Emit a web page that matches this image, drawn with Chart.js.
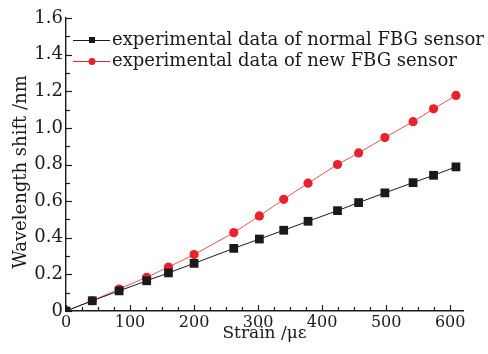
<!DOCTYPE html>
<html>
<head>
<meta charset="utf-8">
<script src="https://cdn.jsdelivr.net/npm/chart.js@4.4.0/dist/chart.umd.min.js"></script>
<style>
    body { margin: 0; background: #fff; }
    #wrap { width: 488px; height: 354px; }
</style>
</head>
<body>
<div id="wrap"><canvas id="strainChart" width="488" height="354"></canvas></div>
<script>
// strain values (με)
const strainNormal = [0, 41, 83, 126, 160, 200, 262, 302, 340, 378, 424, 457, 498, 542, 574, 609];
const shiftNormal = [0, 0.056, 0.11, 0.165, 0.208, 0.26, 0.342, 0.393, 0.441, 0.49, 0.548, 0.592, 0.645, 0.701, 0.741, 0.787];

const strainNew = [0, 41, 83, 126, 160, 200, 262, 302, 340, 378, 424, 457, 498, 542, 574, 609];
const shiftNew = [0, 0.056, 0.12, 0.184, 0.24, 0.308, 0.428, 0.519, 0.61, 0.698, 0.8, 0.863, 0.947, 1.034, 1.104, 1.177];

const xTicks = [0, 100, 200, 300, 400, 500, 600];
const yTicks = [0, 0.2, 0.4, 0.6, 0.8, 1.0, 1.2, 1.4, 1.6];

const legendLabels = ['experimental data of normal FBG sensor', 'experimental data of new FBG sensor'];
const xTitle = 'Strain /με';
const yTitle = 'Wavelength shift /nm';

const SERIF = '"DejaVu Serif", "Liberation Serif", serif';
const INK = '#1a1a1a';
const RED = '#e8222a';

function toPoints(xs, ys) {
    return xs.map((x, i) => ({ x: x, y: ys[i] }));
}

// inward tick marks, axis titles and the in-plot legend
const decorPlugin = {
    id: 'decor',
    afterDraw(chart) {
        const ctx = chart.ctx;
        const xs = chart.scales.x;
        const ys = chart.scales.y;
        const area = chart.chartArea;
        ctx.save();
        ctx.strokeStyle = INK;
        ctx.lineWidth = 1.2;

        // x ticks, minor every 25
        for (let v = 0; v <= 620; v += 25) {
            const px = Math.round(xs.getPixelForValue(v)) + 0.5;
            const len = v % 100 === 0 ? 6 : 4;
            ctx.beginPath();
            ctx.moveTo(px, area.bottom);
            ctx.lineTo(px, area.bottom - len);
            ctx.stroke();
        }
        // y ticks, minor every 0.1
        for (let i = 0; i <= 16; i++) {
            const py = Math.round(ys.getPixelForValue(i / 10)) + 0.5;
            const len = i % 2 === 0 ? 6 : 4;
            ctx.beginPath();
            ctx.moveTo(area.left, py);
            ctx.lineTo(area.left + len, py);
            ctx.stroke();
        }

        // axis titles
        ctx.fillStyle = INK;
        ctx.font = '17px ' + SERIF;
        ctx.textAlign = 'center';
        ctx.textBaseline = 'middle';
        ctx.fillText(xTitle, (area.left + area.right) / 2, 334);
        ctx.save();
        ctx.translate(21, 172);
        ctx.rotate(-Math.PI / 2);
        ctx.font = '18px ' + SERIF;
        ctx.fillText(yTitle, 0, 0);
        ctx.restore();

        // legend
        const rows = [
            { y: 40, color: INK, style: 'rect', label: legendLabels[0] },
            { y: 61, color: RED, style: 'circle', label: legendLabels[1] }
        ];
        ctx.textAlign = 'left';
        rows.forEach(row => {
            ctx.strokeStyle = row.color;
            ctx.lineWidth = 1;
            ctx.beginPath();
            ctx.moveTo(73, row.y + 0.5);
            ctx.lineTo(110, row.y + 0.5);
            ctx.stroke();
            ctx.fillStyle = row.color;
            if (row.style === 'rect') {
                ctx.fillRect(89, row.y - 3, 6, 6);
            } else {
                ctx.beginPath();
                ctx.arc(92, row.y + 0.5, 3.5, 0, Math.PI * 2);
                ctx.fill();
            }
            ctx.fillStyle = INK;
            ctx.font = '18px ' + SERIF;
            ctx.fillText(row.label, 112, row.y);
        });
        ctx.restore();
    }
};

function initChart() {
    const ctx = document.getElementById('strainChart').getContext('2d');
    return new Chart(ctx, {
        type: 'line',
        data: {
            datasets: [{
                label: legendLabels[0],
                data: toPoints(strainNormal, shiftNormal),
                borderColor: INK,
                backgroundColor: INK,
                borderWidth: 1,
                pointStyle: 'rect',
                pointRadius: 6.2,
                pointBorderWidth: 0
            }, {
                label: legendLabels[1],
                data: toPoints(strainNew, shiftNew),
                borderColor: '#f05050',
                backgroundColor: RED,
                borderWidth: 1,
                pointStyle: 'circle',
                pointRadius: 4.6,
                pointBorderWidth: 0
            }]
        },
        options: {
            responsive: false,
            animation: false,
            layout: { padding: { left: 0, top: 18, right: 25, bottom: 0 } },
            plugins: {
                legend: { display: false },
                tooltip: { enabled: false }
            },
            scales: {
                x: {
                    type: 'linear',
                    min: 0,
                    max: 620,
                    afterBuildTicks: scale => { scale.ticks = xTicks.map(v => ({ value: v })); },
                    afterFit: scale => { scale.height = 43; },
                    grid: { display: false, drawTicks: false },
                    border: { display: true, color: INK, width: 1.4 },
                    ticks: {
                        color: INK,
                        font: { family: SERIF, size: 16 },
                        padding: 2,
                        maxRotation: 0
                    }
                },
                y: {
                    type: 'linear',
                    min: 0,
                    max: 1.6,
                    afterBuildTicks: scale => { scale.ticks = yTicks.map(v => ({ value: v })); },
                    afterFit: scale => { scale.width = 66; },
                    grid: { display: false, drawTicks: false },
                    border: { display: true, color: INK, width: 1.4 },
                    ticks: {
                        color: INK,
                        font: { family: SERIF, size: 18 },
                        padding: 3,
                        callback: v => v === 0 ? '0' : v.toFixed(1)
                    }
                }
            }
        },
        plugins: [decorPlugin]
    });
}

document.addEventListener('DOMContentLoaded', () => {
    initChart();
});
</script>
</body>
</html>
